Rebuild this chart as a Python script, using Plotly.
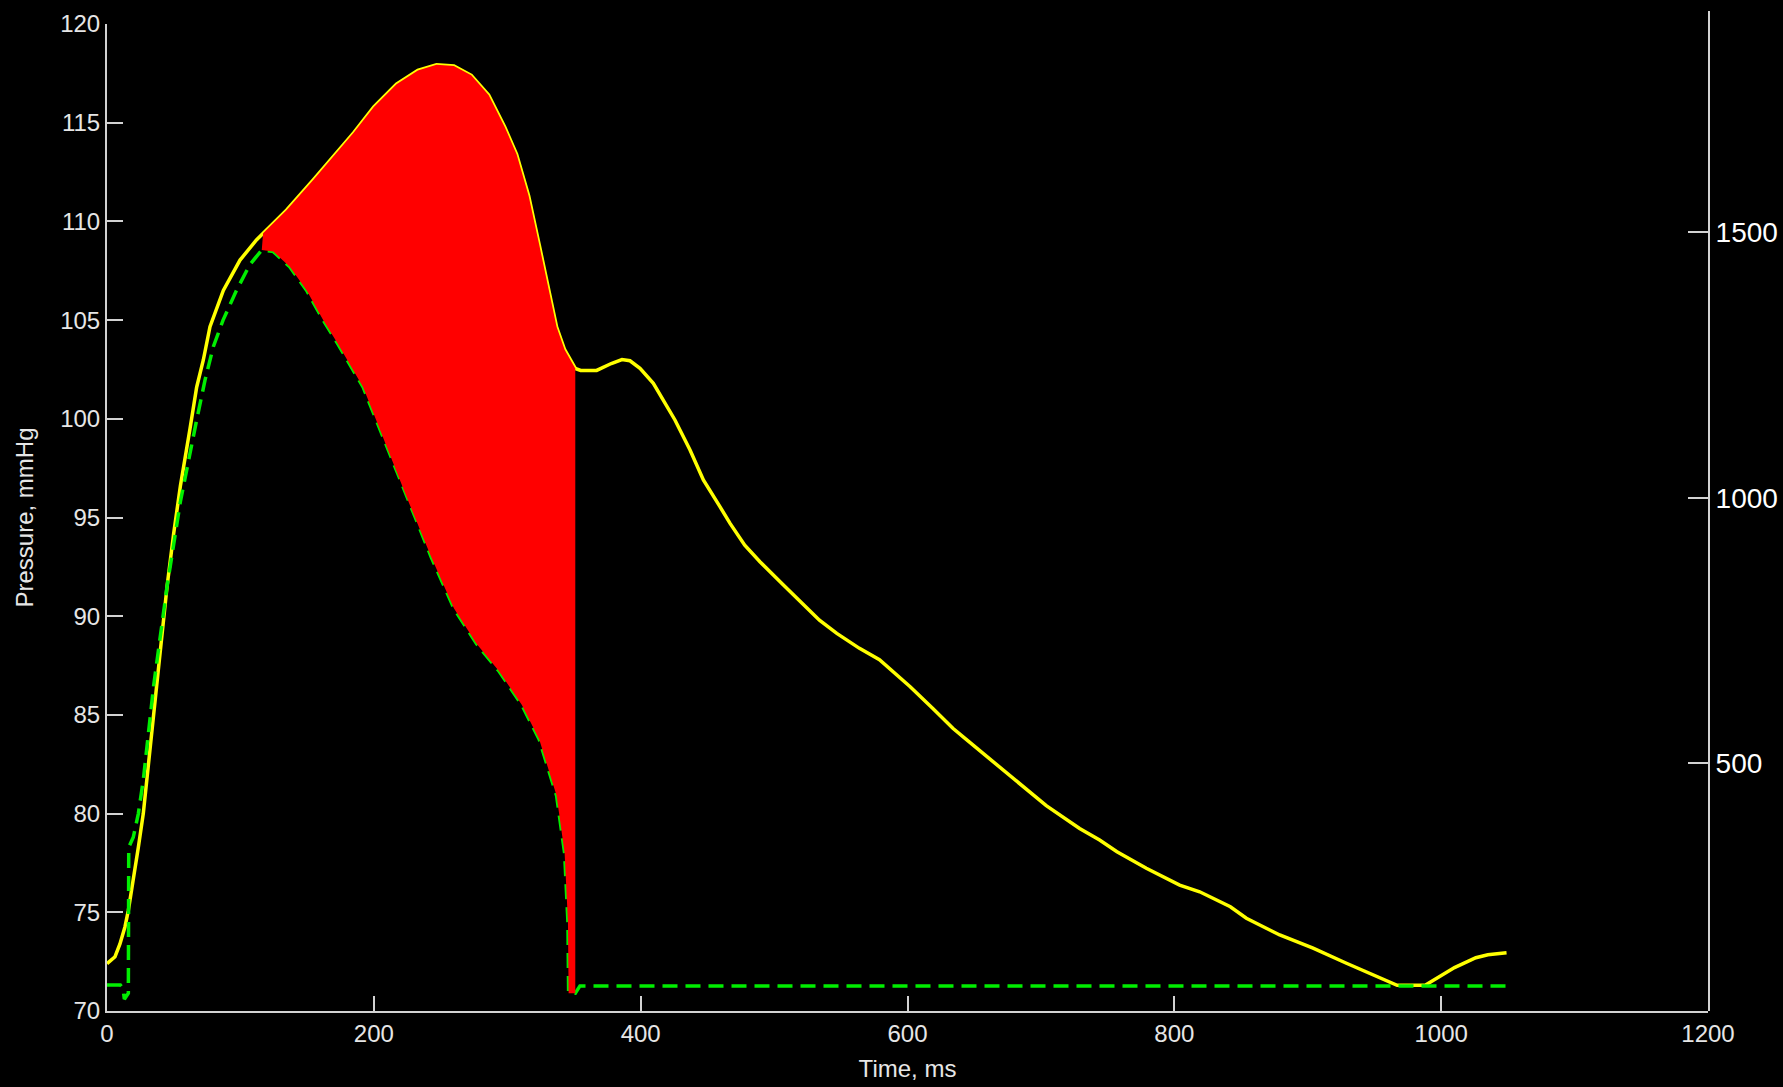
import plotly.graph_objects as go

# Aortic pressure waveform (yellow), ms / mmHg
pressure_t = [0, 6, 9.7, 13.5, 16, 19.7, 23.5, 27.2, 29.8, 35, 40, 45, 50, 55,
              62.2, 67.2, 72.2, 77.2, 87.2, 99.7, 112, 117, 134.7, 154.6, 170,
              185, 200, 217, 233, 247, 260, 273, 286, 298, 307, 316, 324,
              333.5, 337, 343, 351,
              355, 367, 378, 386, 392, 399.5, 409.5, 417, 425.7, 437, 447,
              459.4, 467, 478, 489.4, 507, 534, 547, 564, 579, 589, 602, 619,
              634, 644, 661, 680, 704, 729, 744, 757, 779, 804, 819, 842, 854,
              879, 904, 929, 954, 967, 988, 1000, 1010, 1026, 1035, 1049]
pressure_v = [72.4, 72.75, 73.4, 74.27, 75.1, 76.6, 78.3, 80.0, 81.7, 85.0,
              88.3, 91.5, 94.2, 96.6, 99.5, 101.6, 102.98, 104.67, 106.5,
              108.04, 109.06, 109.4, 110.58, 112.1, 113.3, 114.5, 115.8,
              116.95, 117.65, 117.93, 117.87, 117.4, 116.4, 114.8, 113.4,
              111.3, 108.8, 105.87, 104.65, 103.5, 102.55,
              102.45, 102.45, 102.8, 103.0, 102.94, 102.56, 101.8, 100.95,
              99.94, 98.42, 96.9, 95.55, 94.7, 93.6, 92.76, 91.58, 89.8, 89.13,
              88.37, 87.8, 87.19, 86.43, 85.33, 84.32, 83.76, 82.8, 81.7, 80.4,
              79.25, 78.66, 78.07, 77.23, 76.38, 76.04, 75.28, 74.7, 73.85,
              73.18, 72.42, 71.66, 71.3, 71.3, 71.8, 72.2, 72.7, 72.85, 72.95]

# Reservoir pressure (green dashed), ms / mmHg
reservoir_t = [0, 10, 12, 13, 16, 16.3, 19.7, 23.5, 27.2, 35, 45, 55, 67.2,
               73.5, 79.7, 87, 97, 107, 116, 124.7, 137, 149.7, 162, 173, 192,
               209, 226, 243, 260, 277, 294, 311, 324, 337, 343, 345.5, 346,
               351, 354.5, 1049]
reservoir_v = [71.32, 71.32, 71.15, 70.6, 70.9, 78.3, 78.8, 80.0, 81.7, 86.5,
               91.5, 95.8, 99.94, 101.97, 103.65, 105.0, 106.5, 107.8, 108.55,
               108.47, 107.7, 106.5, 105.0, 103.8, 101.6, 98.7, 95.8, 93.0,
               90.4, 88.6, 87.2, 85.5, 83.75, 80.9, 78.0, 74.5, 70.9, 70.9,
               71.27, 71.27]

# Ejection window shaded between the two curves
fill_start, fill_end = 116, 351

x_ticks = [0, 200, 400, 600, 800, 1000, 1200]
y_ticks = [70, 75, 80, 85, 90, 95, 100, 105, 110, 115, 120]
y2_ticks = [500, 1000, 1500]

top = [(t, v) for t, v in zip(pressure_t, pressure_v) if fill_start <= t <= fill_end]
bottom = [(t, v) for t, v in zip(reservoir_t, reservoir_v) if fill_start <= t <= fill_end]
poly = top + bottom[::-1]

AXIS = "#d2d2d2"
FAMILY = "Arial, Liberation Sans, sans-serif"
TICKFONT = dict(family=FAMILY, size=24, color="#e6e6e6")

fig = go.Figure()
fig.add_trace(go.Scatter(x=pressure_t, y=pressure_v, mode="lines",
                         line=dict(color="#ffff00", width=3.5),
                         hoverinfo="skip", showlegend=False))
fig.add_trace(go.Scatter(x=reservoir_t, y=reservoir_v, mode="lines",
                         line=dict(color="#00ee00", width=3.5, dash="15px,8px"),
                         hoverinfo="skip", showlegend=False))
fig.add_trace(go.Scatter(x=[p[0] for p in poly], y=[p[1] for p in poly],
                         mode="lines", fill="toself", fillcolor="#ff0000",
                         line=dict(color="#ff0000", width=0),
                         hoverinfo="skip", showlegend=False))
# empty trace so the secondary axis is laid out
fig.add_trace(go.Scatter(x=[None], y=[None], yaxis="y2", mode="lines",
                         hoverinfo="skip", showlegend=False))

fig.update_layout(
    width=1783, height=1087,
    margin=dict(l=107, r=75, t=11, b=76, autoexpand=False),
    paper_bgcolor="black", plot_bgcolor="rgba(0,0,0,0)",
    xaxis=dict(range=[0, 1200], tickvals=x_ticks, ticks="inside", ticklen=15,
               tickwidth=2, tickcolor=AXIS, showline=True, linecolor=AXIS,
               linewidth=2, showgrid=False, zeroline=False, anchor="y",
               automargin=False, tickfont=TICKFONT,
               title=dict(text="Time, ms", standoff=14,
                          font=dict(family=FAMILY, size=24, color="#e6e6e6"))),
    yaxis=dict(range=[70, 120], tickvals=y_ticks, domain=[0, 0.987],
               ticks="inside", ticklen=16, tickwidth=2, tickcolor=AXIS,
               showline=True, linecolor=AXIS, linewidth=2, showgrid=False,
               zeroline=False, automargin=False, tickfont=TICKFONT,
               title=dict(text="Pressure, mmHg", standoff=20,
                          font=dict(family=FAMILY, size=24, color="#e6e6e6"))),
    yaxis2=dict(range=[34, 1916], tickvals=y2_ticks, domain=[0, 1],
                anchor="x", side="right", ticks="inside", ticklen=20,
                tickwidth=2, tickcolor=AXIS, showline=True, linecolor=AXIS,
                linewidth=2, showgrid=False, zeroline=False, automargin=False,
                tickfont=dict(family=FAMILY, size=28, color="#ffffff")),
)

fig.write_html("out.html")
